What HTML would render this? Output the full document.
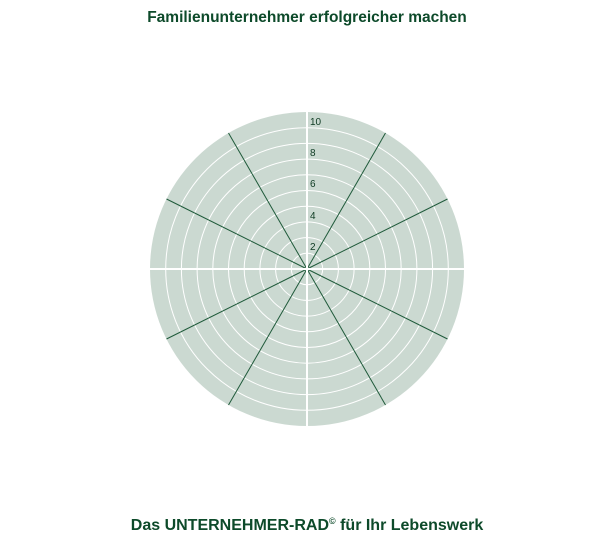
<!DOCTYPE html>
<html><head><style>body{margin:0;background:#fff;width:614px;height:540px;overflow:hidden}</style></head><body>
<svg width="614" height="540" xmlns="http://www.w3.org/2000/svg" font-family="Liberation Sans, Arial, sans-serif">
<text x="307" y="22" text-anchor="middle" font-size="15.5" font-weight="bold" fill="#0d4a2a">Familienunternehmer erfolgreicher machen</text>
<text x="307" y="530" text-anchor="middle" font-size="16" font-weight="bold" fill="#0d4a2a">Das UNTERNEHMER-RAD<tspan font-size="9" dy="-6">©</tspan><tspan dy="6"> für Ihr Lebenswerk</tspan></text>
<g transform="translate(307,269)">
<circle r="157" fill="#cbd9d1"/>
<g fill="none" stroke="#fff" stroke-width="1">
<circle r="15.7"/><circle r="31.4"/><circle r="47.1"/><circle r="62.8"/><circle r="78.5"/><circle r="94.2"/><circle r="109.9"/><circle r="125.6"/><circle r="141.3"/>
</g>
<g stroke="#1f5a3a" stroke-width="1">
<line x1="0" y1="0" x2="78.5" y2="-136"/><line x1="0" y1="0" x2="140.5" y2="-70"/>
<line x1="0" y1="0" x2="78.5" y2="136"/><line x1="0" y1="0" x2="140.5" y2="70"/>
<line x1="0" y1="0" x2="-78.5" y2="-136"/><line x1="0" y1="0" x2="-140.5" y2="-70"/>
<line x1="0" y1="0" x2="-78.5" y2="136"/><line x1="0" y1="0" x2="-140.5" y2="70"/>
</g>
<g stroke="#fff" stroke-width="2">
<line x1="-157" y1="0" x2="157" y2="0"/><line x1="0" y1="-157" x2="0" y2="157"/>
</g>
<g font-size="10" fill="#0d3a22">
<text x="3" y="-19">2</text><text x="3" y="-50">4</text><text x="3" y="-82">6</text><text x="3" y="-113">8</text><text x="3" y="-144">10</text>
</g>
</g>
</svg>
</body></html>
